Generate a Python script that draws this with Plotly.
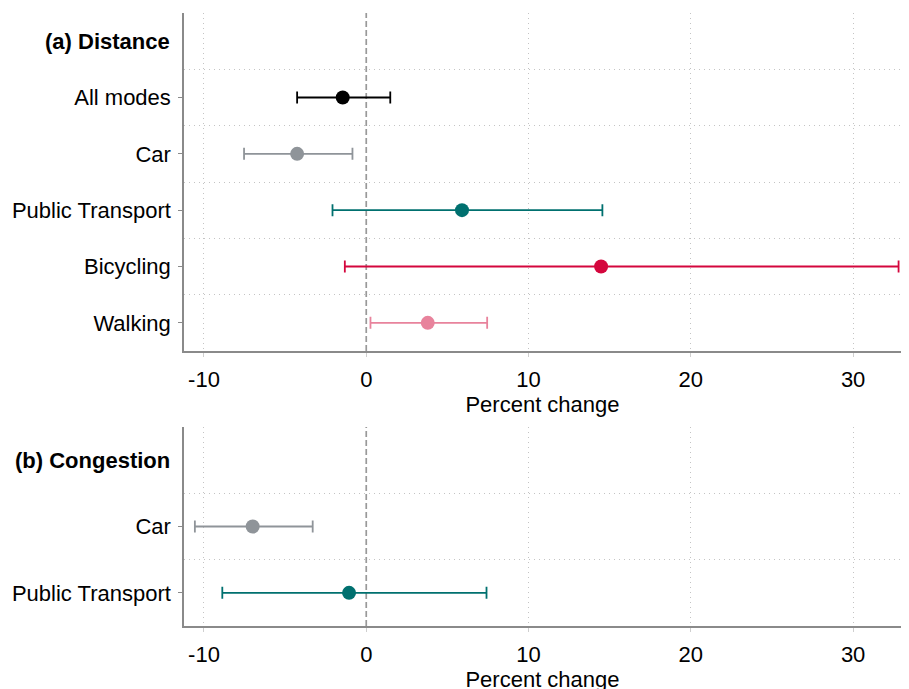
import plotly.graph_objects as go
from plotly.subplots import make_subplots

# Panel (a) Distance
dist_labels = ["All modes", "Car", "Public Transport", "Bicycling", "Walking"]
dist_est = [-1.45, -4.26, 5.90, 14.47, 3.79]
dist_lo = [-4.26, -7.53, -2.08, -1.32, 0.26]
dist_hi = [1.48, -0.85, 14.55, 32.80, 7.45]
dist_colors = ["#000000", "#8f9499", "#00706f", "#d4063d", "#e8839c"]

# Panel (b) Congestion
cong_labels = ["Car", "Public Transport"]
cong_est = [-7.00, -1.06]
cong_lo = [-10.56, -8.87]
cong_hi = [-3.30, 7.41]
cong_colors = ["#8f9499", "#00706f"]

x_ticks = [-10, 0, 10, 20, 30]
x_range = [-11.23, 32.95]

FONT = "Liberation Sans, Arial, sans-serif"
FS = 22
GRID = "#c4c4c4"
AXIS = "#8a8a8a"

fig = make_subplots(rows=2, cols=1, shared_xaxes=False)


def add_points(labels, est, lo, hi, colors, row):
    for i, (lab, e, l, h, c) in enumerate(zip(labels, est, lo, hi, colors)):
        fig.add_trace(go.Scatter(
            x=[e], y=[i + 1], mode="markers",
            marker=dict(color=c, size=14),
            error_x=dict(type="data", symmetric=False, array=[h - e], arrayminus=[e - l],
                         color=c, thickness=1.8, width=6),
            showlegend=False, name=lab, cliponaxis=False,
        ), row=row, col=1)


add_points(dist_labels, dist_est, dist_lo, dist_hi, dist_colors, 1)
add_points(cong_labels, cong_est, cong_lo, cong_hi, cong_colors, 2)

xcommon = dict(
    range=x_range, tickvals=x_ticks, ticktext=[str(v) for v in x_ticks],
    showgrid=False, zeroline=False,
    showline=True, linecolor=AXIS, linewidth=1.5,
    ticks="outside", ticklen=4, tickcolor="#cfcfcf", tickwidth=1,
    ticklabelstandoff=4,
    tickfont=dict(family=FONT, size=FS, color="#000"),
    minor=dict(tickvals=[-10, 10, 20, 30], showgrid=True, gridcolor=GRID,
               griddash="1px,4px", gridwidth=1.2),
    title=dict(text="Percent change", font=dict(family=FONT, size=FS, color="#000"), standoff=4),
    automargin=False,
)
fig.update_xaxes(**xcommon, row=1, col=1)
fig.update_xaxes(**xcommon, row=2, col=1)

ycommon = dict(
    showgrid=False, zeroline=False,
    showline=True, linecolor=AXIS, linewidth=1.5,
    ticks="outside", ticklen=4, tickcolor=AXIS, tickwidth=1,
    ticklabelstandoff=3,
    tickfont=dict(family=FONT, size=FS, color="#000"),
    automargin=False,
)
fig.update_yaxes(**ycommon, range=[5.5, -0.5],
                 tickvals=list(range(1, len(dist_labels) + 1)), ticktext=dist_labels,
                 minor=dict(tickvals=[0.5 + i for i in range(len(dist_labels))], showgrid=True,
                            gridcolor=GRID, griddash="1px,4px", gridwidth=1.2),
                 row=1, col=1)
fig.update_yaxes(**ycommon, range=[2.5, -0.5],
                 tickvals=list(range(1, len(cong_labels) + 1)), ticktext=cong_labels,
                 minor=dict(tickvals=[0.5 + i for i in range(len(cong_labels))], showgrid=True,
                            gridcolor=GRID, griddash="1px,4px", gridwidth=1.2),
                 row=2, col=1)

# page has an 8px body margin; keep the figure inside the visible area horizontally,
# and let it extend below the window so the last axis title is cut like the original
OFF = 8
W = 894
PLOT_H = 689 - OFF
B = 20
H = PLOT_H + B


def dom(top_px, bottom_px):
    return [1 - (bottom_px - OFF) / PLOT_H, 1 - (top_px - OFF) / PLOT_H]


fig.update_layout(
    width=W, height=H,
    margin=dict(l=184 - OFF, r=1, t=0, b=B),
    plot_bgcolor="white", paper_bgcolor="white",
    xaxis=dict(domain=[0, 1]), xaxis2=dict(domain=[0, 1]),
    yaxis=dict(domain=dom(13, 351)),
    yaxis2=dict(domain=dom(427, 626)),
)

# zero reference lines
for xr, yref in [("x", "y domain"), ("x2", "y2 domain")]:
    fig.add_shape(type="line", xref=xr, yref=yref, x0=0, x1=0, y0=0, y1=1,
                  line=dict(color="#999999", width=1.7, dash="6px,3px"), layer="below")

# panel headers
fig.add_annotation(text="<b>(a) Distance</b>", xref="paper", yref="y", x=0, y=0,
                   xanchor="right", xshift=-12, showarrow=False,
                   font=dict(family=FONT, size=FS, color="#000"))
fig.add_annotation(text="<b>(b) Congestion</b>", xref="paper", yref="y2", x=0, y=0,
                   xanchor="right", xshift=-12, showarrow=False,
                   font=dict(family=FONT, size=FS, color="#000"))

fig.write_html("out.html")
